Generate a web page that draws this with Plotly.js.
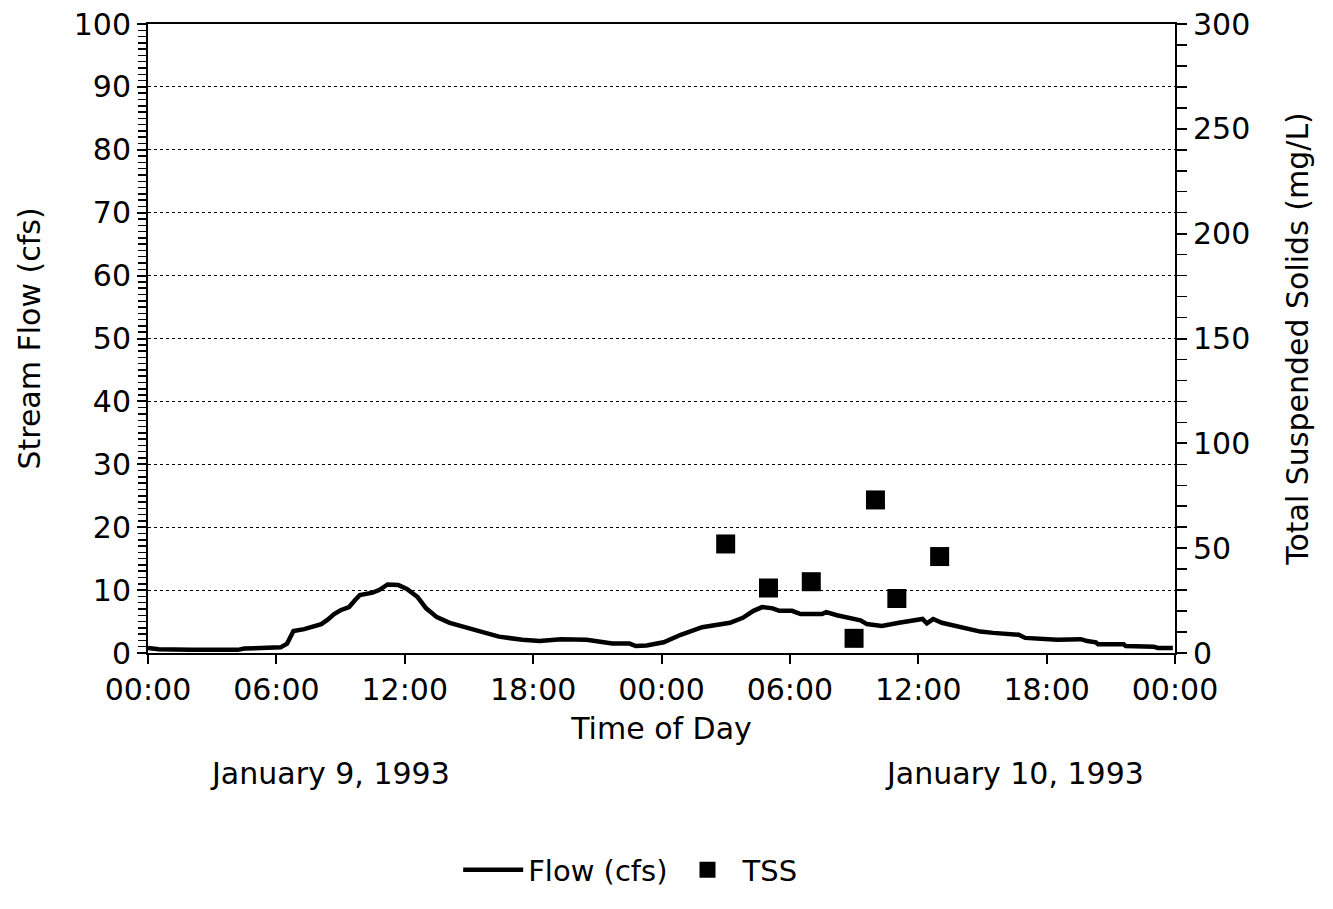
<!DOCTYPE html>
<html>
<head>
<meta charset="utf-8">
<script src="https://cdn.plot.ly/plotly-3.0.1.min.js"></script>
<style>html,body{margin:0;padding:0;background:#fff;}#chart{width:1333px;height:909px;}</style>
</head>
<body>
<div id="chart"></div>
<script>
// Hours since 00:00 January 9, 1993
var flowHours = [0,0.5,2,4.2,4.5,6.2,6.5,6.8,7.3,7.7,8.1,8.4,8.7,9.0,9.4,9.7,9.9,10.5,10.8,11.2,11.7,12.1,12.6,13.0,13.5,14.1,15.2,16.4,17.5,18.3,19.3,20.2,20.5,21.3,21.7,22.5,22.8,23.3,24.1,24.9,25.9,27.2,27.8,28.3,28.7,29.2,29.5,30.1,30.5,31.5,31.7,32.2,32.7,33.3,33.6,34.3,35.1,35.7,36.2,36.4,36.7,37.1,38.1,38.9,39.5,40.7,41.0,42.0,42.5,43.6,43.9,44.3,44.4,45.6,45.7,47.0,47.2,47.9];
var flowCfs = [0.8,0.6,0.5,0.5,0.7,0.9,1.5,3.5,3.8,4.2,4.6,5.3,6.2,6.8,7.3,8.5,9.2,9.6,10.0,10.9,10.8,10.2,8.9,7.1,5.7,4.8,3.7,2.6,2.1,1.9,2.2,2.2,2.1,1.7,1.5,1.5,1.1,1.2,1.7,2.9,4.1,4.8,5.6,6.7,7.3,7.1,6.7,6.7,6.2,6.2,6.5,6.0,5.6,5.2,4.6,4.3,4.8,5.1,5.4,4.7,5.4,4.8,4.1,3.4,3.2,2.9,2.4,2.2,2.1,2.2,1.9,1.7,1.4,1.4,1.1,1.0,0.8,0.8];
var tssHours = [27,29,31,33,34,35,37];
var tssMgL = [52,31,34,7,73,26,46];
var tickHours = [0,6,12,18,24,30,36,42,48];
var tickLabels = ["00:00","06:00","12:00","18:00","00:00","06:00","12:00","18:00","00:00"];
var dateLabels = ["January 9, 1993","January 10, 1993"];

var FAM = "DejaVu Sans, Verdana, sans-serif";
var F = function(s){ return {family:FAM, size:s, color:"#000"}; };

var traces = [
  {x:flowHours, y:flowCfs, type:"scatter", mode:"lines", name:"Flow (cfs)",
   line:{color:"#000", width:4.5}, yaxis:"y"},
  {x:tssHours, y:tssMgL, type:"scatter", mode:"markers", name:"TSS",
   marker:{symbol:"square", size:19, color:"#000"}, yaxis:"y2"}
];

var layout = {
  width:1333, height:909,
  paper_bgcolor:"#fff", plot_bgcolor:"#fff",
  margin:{l:148, r:158, t:24, b:256},
  font:F(31),
  showlegend:true,
  legend:{orientation:"h", x:0.47, xanchor:"center", y:-0.345, yanchor:"middle",
          font:F(29), itemwidth:60},
  xaxis:{range:[0,48], tickvals:tickHours, ticktext:tickLabels,
         showline:true, linecolor:"#000", linewidth:2, mirror:true,
         ticks:"outside", ticklen:9, tickwidth:2, tickcolor:"#000",
         showgrid:false, zeroline:false,
         tickfont:F(30),
         title:{text:"Time of Day", font:F(30), standoff:12}},
  yaxis:{range:[0,100], dtick:10, showline:true, linecolor:"#000", linewidth:2,
         ticks:"outside", ticklen:9, tickwidth:2, tickcolor:"#000",
         minor:{dtick:1, ticks:"outside", ticklen:8, tickwidth:1.5, tickcolor:"#000", showgrid:false},
         showgrid:true, gridcolor:"#000", griddash:"dot", gridwidth:1,
         zeroline:false,
         tickfont:F(30),
         title:{text:"Stream Flow (cfs)", font:F(30), standoff:24}},
  yaxis2:{range:[0,300], dtick:50, overlaying:"y", side:"right",
          showline:true, linecolor:"#000", linewidth:2,
          ticks:"outside", ticklen:10, tickwidth:2, tickcolor:"#000",
          minor:{dtick:10, ticks:"outside", ticklen:10, tickwidth:1.5, tickcolor:"#000", showgrid:false},
          showgrid:false, zeroline:false,
          tickfont:F(30),
          title:{text:"Total Suspended Solids (mg/L)", font:F(30), standoff:38}},
  annotations:[
    {text:dateLabels[0], xref:"paper", yref:"paper", x:0.177, y:-0.192, showarrow:false,
     font:F(30), xanchor:"center", yanchor:"middle"},
    {text:dateLabels[1], xref:"paper", yref:"paper", x:0.844, y:-0.192, showarrow:false,
     font:F(30), xanchor:"center", yanchor:"middle"}
  ]
};

Plotly.newPlot("chart", traces, layout, {displayModeBar:false, staticPlot:true});
</script>
</body>
</html>
